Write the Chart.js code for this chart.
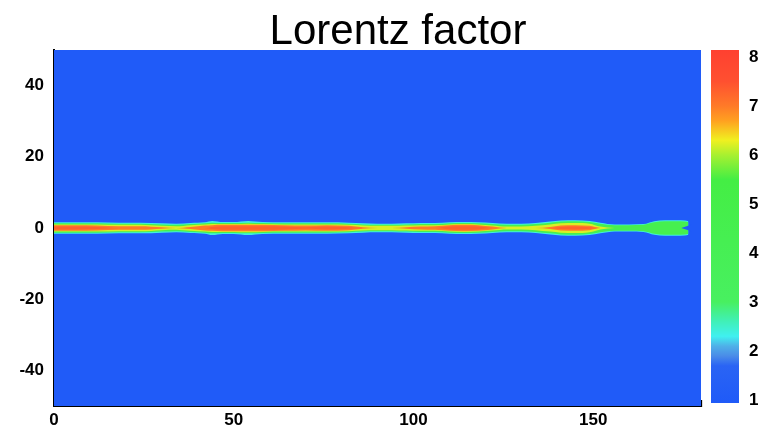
<!DOCTYPE html>
<html>
<head>
<meta charset="utf-8">
<title>Lorentz factor</title>
<script src="https://cdn.jsdelivr.net/npm/chart.js@4.4.1/dist/chart.umd.min.js"></script>
<style>
  html, body { margin: 0; padding: 0; background: #fff; overflow: hidden; }
  #wrap { position: relative; width: 761px; height: 434px; overflow: hidden; }
  #lorentzChart { position: absolute; left: 0; top: 0; }
  #colorbarChart { position: absolute; left: 700px; top: 0; }
</style>
</head>
<body>
<div id="wrap">
  <canvas id="lorentzChart" width="796" height="434"></canvas>
  <canvas id="colorbarChart" width="69" height="434"></canvas>
</div>
<script>
// domain of the simulation box
const xRange = [0, 180];
const yRange = [-50, 50];
const ambientLevel = 1;

// axis ticks
const xTicks = [0, 10, 20, 30, 40, 50, 60, 70, 80, 90, 100, 110, 120, 130, 140, 150, 160, 170, 180];
const xLabels = [0, 50, 100, 150];
const yTicks = [-48, -44, -40, -36, -32, -28, -24, -20, -16, -12, -8, -4, 0, 4, 8, 12, 16, 20, 24, 28, 32, 36, 40, 44, 48];
const yLabels = [-40, -20, 0, 20, 40];

// jet: samples along the axis and half width of each contour level
const jetX = [0, 6, 12, 18, 24, 30, 34, 38, 42, 44, 47, 50, 54, 58, 64, 70, 76, 82, 86, 90, 94, 98, 102, 106,
  110, 114, 118, 122, 126, 130, 134, 138, 141, 145, 149, 152, 156, 160, 164, 167, 170, 173, 175.5, 176.5];
const contourLevels = [2.4, 4.5, 6.2, 7.0, 7.3];
const halfW24 = [1.6, 1.6, 1.6, 1.5, 1.5, 1.3, 1.2, 1.4, 1.6, 2.0, 1.7, 1.7, 2.0, 1.7, 1.6, 1.6, 1.6, 1.5, 1.3, 1.2, 1.2, 1.3, 1.4, 1.4,
  1.6, 1.7, 1.6, 1.4, 1.2, 1.2, 1.4, 1.8, 2.1, 2.2, 2.0, 1.5, 1.0, 1.0, 1.1, 1.9, 2.2, 2.2, 2.1, 1.9];
const halfW45 = [1.3, 1.3, 1.3, 1.2, 1.2, 1.0, 0.9, 1.1, 1.3, 1.5, 1.4, 1.4, 1.5, 1.4, 1.3, 1.3, 1.3, 1.2, 1.0, 0.9, 0.9, 1.0, 1.1, 1.1,
  1.3, 1.4, 1.3, 1.1, 0.9, 0.9, 1.1, 1.5, 1.8, 1.9, 1.7, 1.2, 0.8, 0.8, 0.9, 1.6, 1.9, 1.9, 1.8, 1.6];
const halfW62 = [1.0, 1.0, 1.0, 0.9, 0.9, 0.6, 0.5, 0.8, 1.0, 1.1, 1.1, 1.1, 1.2, 1.1, 1.0, 1.0, 1.0, 0.9, 0.7, 0.6, 0.6, 0.7, 0.8, 0.8,
  1.0, 1.1, 1.0, 0.7, 0.4, 0.4, 0.6, 1.0, 1.3, 1.4, 1.2, 0.4, 0, 0, 0, 0, 0, 0, 0, 0];
const halfW70 = [0.8, 0.8, 0.7, 0.5, 0.5, 0.2, 0, 0.3, 0.7, 0.8, 0.9, 0.9, 0.9, 0.9, 0.8, 0.7, 0.8, 0.6, 0.2, 0, 0, 0.2, 0.4, 0.5,
  0.8, 0.9, 0.8, 0.4, 0, 0, 0, 0.3, 0.7, 0.8, 0.6, 0, 0, 0, 0, 0, 0, 0, 0, 0];
const halfW73 = [0.4, 0.4, 0.3, 0, 0, 0, 0, 0, 0, 0.3, 0.5, 0.5, 0.5, 0.5, 0.4, 0.2, 0.4, 0.2, 0, 0, 0, 0, 0, 0,
  0.4, 0.5, 0.4, 0, 0, 0, 0, 0, 0.3, 0.4, 0.2, 0, 0, 0, 0, 0, 0, 0, 0, 0];
const contourHalfWidths = [halfW24, halfW45, halfW62, halfW70, halfW73];

// notch of ambient gas at the jet head
const notchX = [174.5, 177.5];
const notchHalfW = [0, 1.0];

// colour bar
const cbTicks = [1, 2, 3, 4, 5, 6, 7, 8];
const cbRange = [0.94, 8.14];

// colormap
const cmapStops = [0.9, 1.7, 1.9, 2.1, 2.3, 2.6, 3.0, 5.5, 6.0, 6.3, 6.7, 7.0, 7.5, 8.2];
const cmapColors = ['#1f5af8', '#2a64f4', '#4a8ce8', '#4fb0e8', '#40f0f0', '#40f0b8', '#48f060', '#44ee44',
  '#a8f030', '#f0f020', '#ffa020', '#ff7a28', '#ff5030', '#ff4030'];

function hexToRgb(h) {
  return [parseInt(h.slice(1, 3), 16), parseInt(h.slice(3, 5), 16), parseInt(h.slice(5, 7), 16)];
}

function cmap(v) {
  if (v <= cmapStops[0]) return cmapColors[0];
  for (let i = 1; i < cmapStops.length; i++) {
    if (v <= cmapStops[i]) {
      const t = (v - cmapStops[i - 1]) / (cmapStops[i] - cmapStops[i - 1]);
      const a = hexToRgb(cmapColors[i - 1]);
      const b = hexToRgb(cmapColors[i]);
      const c = a.map((av, k) => Math.round(av + (b[k] - av) * t));
      return 'rgb(' + c.join(',') + ')';
    }
  }
  return cmapColors[cmapColors.length - 1];
}

Chart.defaults.font.family = "'Liberation Sans', Arial, sans-serif";
Chart.defaults.color = '#000';

const tickFont = { size: 17, weight: 'bold' };
const noLine = { borderColor: 'rgba(0,0,0,0)', borderWidth: 0, pointRadius: 0, cubicInterpolationMode: 'monotone' };

// build datasets: ambient background, then each contour band (upper edge filled to mirrored lower edge)
const datasets = [];
datasets.push(Object.assign({
    label: 'ambient',
    data: xRange.map(x => ({ x: x, y: yRange[1] })),
    fill: { value: yRange[0] },
    backgroundColor: cmap(ambientLevel),
    order: 20
}, noLine));

contourLevels.forEach(function(level, i) {
    const w = contourHalfWidths[i];
    const color = cmap(level);
    datasets.push(Object.assign({
        label: 'gamma ' + level,
        data: jetX.map((x, j) => ({ x: x, y: w[j] })),
        fill: '+1',
        backgroundColor: color,
        order: 10 - i
    }, noLine));
    datasets.push(Object.assign({
        label: 'gamma ' + level + ' lower',
        data: jetX.map((x, j) => ({ x: x, y: -w[j] })),
        fill: false,
        backgroundColor: color,
        order: 10 - i
    }, noLine));
});

datasets.push(Object.assign({
    label: 'notch',
    data: notchX.map((x, j) => ({ x: x, y: notchHalfW[j] })),
    fill: '+1',
    backgroundColor: cmap(ambientLevel),
    order: 0
}, noLine, { cubicInterpolationMode: 'default', tension: 0 }));
datasets.push(Object.assign({
    label: 'notch lower',
    data: notchX.map((x, j) => ({ x: x, y: -notchHalfW[j] })),
    fill: false,
    order: 0
}, noLine, { cubicInterpolationMode: 'default', tension: 0 }));

// canvas is wider than the page so the title centre sits where the reference has it
new Chart(document.getElementById('lorentzChart'), {
    type: 'line',
    data: { datasets: datasets },
    options: {
        responsive: false,
        animation: false,
        devicePixelRatio: 1,
        layout: { padding: 0 },
        plugins: {
            legend: { display: false },
            tooltip: { enabled: false },
            title: {
                display: true,
                text: 'Lorentz factor',
                color: '#000',
                font: { size: 42, weight: 'normal', lineHeight: 0.857 },
                padding: { top: 14, bottom: 0 }
            }
        },
        scales: {
            x: {
                type: 'linear',
                min: xRange[0],
                max: xRange[1],
                afterBuildTicks: function(scale) {
                    scale.ticks = xTicks.map(v => ({ value: v }));
                },
                afterFit: function(scale) { scale.height = 28; },
                ticks: {
                    autoSkip: false,
                    maxRotation: 0,
                    padding: 10,
                    font: tickFont,
                    callback: v => xLabels.includes(v) ? String(v) : ''
                },
                grid: {
                    drawOnChartArea: false,
                    tickLength: -6,
                    tickColor: '#000',
                    tickWidth: ctx => xLabels.includes(ctx.tick && ctx.tick.value) ? 2 : 1.3
                },
                border: { display: true, color: '#000', width: 2 }
            },
            y: {
                type: 'linear',
                min: yRange[0],
                max: yRange[1],
                afterBuildTicks: function(scale) {
                    scale.ticks = yTicks.map(v => ({ value: v }));
                },
                afterFit: function(scale) { scale.width = 54; },
                ticks: {
                    autoSkip: false,
                    padding: 16,
                    font: tickFont,
                    callback: v => yLabels.includes(v) ? String(v) : ''
                },
                grid: {
                    drawOnChartArea: false,
                    tickLength: -6,
                    tickColor: '#000',
                    tickWidth: ctx => yLabels.includes(ctx.tick && ctx.tick.value) ? 2 : 1.3
                },
                border: { display: true, color: '#000', width: 2 }
            },
            yR: {
                type: 'linear',
                position: 'right',
                display: true,
                afterFit: function(scale) { scale.width = 95; },
                ticks: { display: false },
                grid: { display: false, drawTicks: false },
                border: { display: false }
            }
        }
    }
});

// Colour bar
new Chart(document.getElementById('colorbarChart'), {
    type: 'bar',
    data: {
        labels: [''],
        datasets: [{
            data: [cbRange],
            borderWidth: 0,
            barPercentage: 1,
            categoryPercentage: 1,
            backgroundColor: function(context) {
                const chart = context.chart;
                if (!chart.chartArea) return cmap(cbRange[0]);
                const yScale = chart.scales.y;
                const g = chart.ctx.createLinearGradient(0, yScale.getPixelForValue(cbRange[0]), 0, yScale.getPixelForValue(cbRange[1]));
                cmapStops.forEach(function(v, i) {
                    const t = (v - cbRange[0]) / (cbRange[1] - cbRange[0]);
                    g.addColorStop(Math.min(1, Math.max(0, t)), cmapColors[i]);
                });
                return g;
            }
        }]
    },
    options: {
        responsive: false,
        animation: false,
        devicePixelRatio: 1,
        layout: { padding: { left: 11, right: 0, top: 50, bottom: 31 } },
        plugins: {
            legend: { display: false },
            tooltip: { enabled: false }
        },
        scales: {
            x: { display: false },
            y: {
                position: 'right',
                min: cbRange[0],
                max: cbRange[1],
                afterBuildTicks: function(scale) {
                    scale.ticks = cbTicks.map(v => ({ value: v }));
                },
                afterFit: function(scale) { scale.width = 30; },
                ticks: { padding: 10, font: tickFont, color: '#000' },
                grid: { display: false, drawTicks: false },
                border: { display: false }
            }
        }
    }
});
</script>
</body>
</html>
